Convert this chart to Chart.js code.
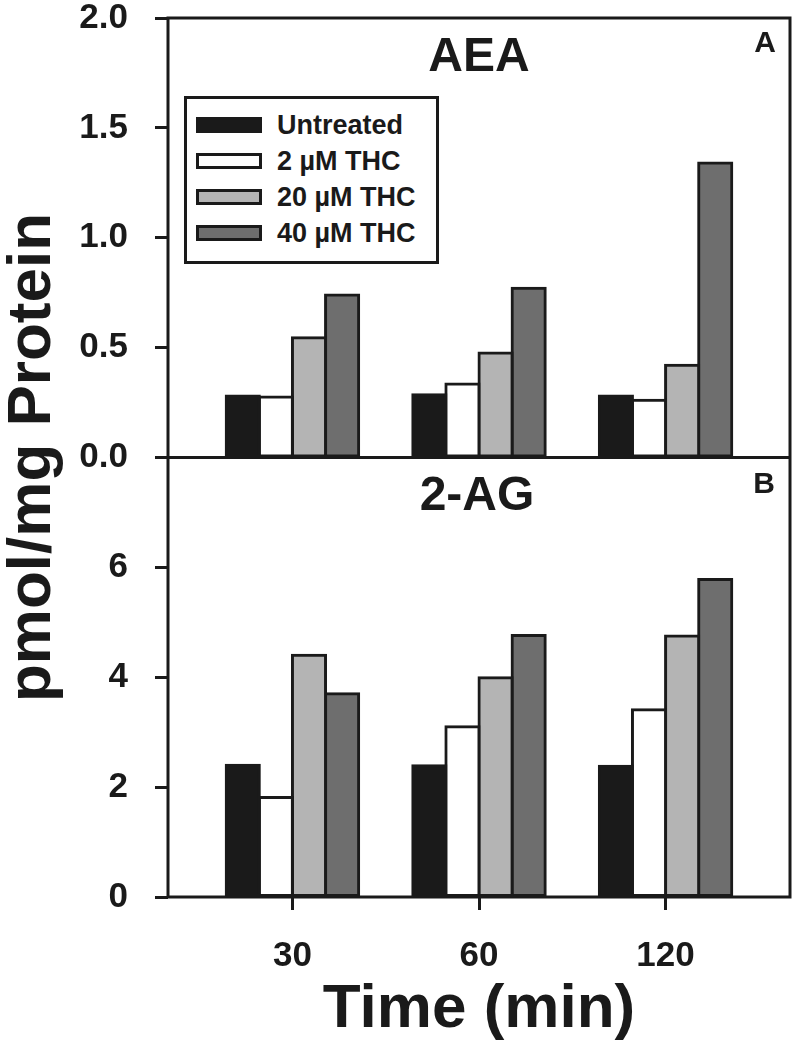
<!DOCTYPE html>
<html lang="en">
<head>
<meta charset="utf-8">
<title>AEA / 2-AG</title>
<script src="https://cdn.jsdelivr.net/npm/chart.js@4.4.1/dist/chart.umd.min.js"></script>
<style>
  html,body{margin:0;padding:0;background:#fff;}
  #cadre{position:relative;width:797px;height:1052px;}
  #legende{position:absolute;left:184px;top:96px;width:255px;height:168px;box-sizing:border-box;
    border:3px solid #1a1a1a;background:#fff;padding:8px 0 0 9px;
    font:bold 27px "Liberation Sans",Arial,sans-serif;color:#1a1a1a;}
  .lg{display:flex;align-items:center;height:36px;white-space:nowrap;}
  .lg i{display:block;width:66px;height:16px;box-sizing:border-box;border:3px solid #1a1a1a;margin-right:15px;}
</style>
</head>
<body>
<div id="cadre">
  <canvas id="graph" width="797" height="1052"></canvas>
  <div id="legende"></div>
</div>
<script>
/* ---- données ---- */
const TEMPS = ['30', '60', '120'];
const SERIES = ['Untreated', '2 µM THC', '20 µM THC', '40 µM THC'];
const COULEURS = ['#1a1a1a', '#ffffff', '#b4b4b4', '#6e6e6e'];

/* A : AEA (pmol/mg protéine) */
const AEA_UNTREATED = [0.28, 0.285, 0.28];
const AEA_THC2 = [0.275, 0.335, 0.26];
const AEA_THC20 = [0.545, 0.475, 0.42];
const AEA_THC40 = [0.74, 0.77, 1.34];

/* B : 2-AG (pmol/mg protéine) */
const AG_UNTREATED = [2.40, 2.39, 2.38];
const AG_THC2 = [1.81, 3.10, 3.41];
const AG_THC20 = [4.40, 3.99, 4.75];
const AG_THC40 = [3.70, 4.76, 5.78];

const TICKS_AEA = [0, 0.5, 1.0, 1.5, 2.0];
const TICKS_AG = [0, 2, 4, 6];

const ENCRE = '#1a1a1a';
const POLICE = '"Liberation Sans", Arial, sans-serif';

const $ = id => document.getElementById(id);

/* légende HTML (une seule pour les deux panneaux) */
$('legende').innerHTML = SERIES.map((s, i) =>
  `<div class="lg"><i style="background:${COULEURS[i]}"></i><span>${s}</span></div>`).join('');

const points = vals => vals.map((y, i) => ({ x: i, y }));
const barres = (vals, i, axe) => ({
  label: SERIES[i], data: points(vals), yAxisID: axe, stack: 's' + i,
  backgroundColor: COULEURS[i], borderColor: ENCRE, borderWidth: 3, borderSkipped: false,
  inflateAmount: 1.5, categoryPercentage: 0.71, barPercentage: 1,
});

/* cadre des deux panneaux + titres de panneau */
const habillage = {
  id: 'habillage',
  afterDatasetsDraw(chart){
    const { ctx, chartArea: a, scales } = chart;
    ctx.save();
    ctx.strokeStyle = ENCRE; ctx.lineWidth = 3;
    ctx.strokeRect(a.left, a.top, a.right - a.left, a.bottom - a.top);
    ctx.beginPath(); ctx.moveTo(a.left, scales.yA.bottom); ctx.lineTo(a.right, scales.yA.bottom); ctx.stroke();
    ctx.fillStyle = ENCRE; ctx.textAlign = 'center'; ctx.textBaseline = 'middle';
    const xm = scales.x.getPixelForValue(1);
    ctx.font = `bold 48px ${POLICE}`;
    ctx.fillText('AEA', xm, scales.yA.top + 40);
    ctx.fillText('2-AG', xm - 2, scales.yB.top + 39);
    ctx.font = `bold 30px ${POLICE}`;
    ctx.fillText('A', a.right - 25, scales.yA.top + 26);
    ctx.fillText('B', a.right - 26, scales.yB.top + 27);
    ctx.restore();
  }
};

const policeTick = { family: POLICE, size: 35, weight: 'bold', lineHeight: 1 };
const policeTitre = { family: POLICE, size: 62, weight: 'bold', lineHeight: 1 };
const grille = { display: true, offset: false, drawOnChartArea: false, drawTicks: true, tickLength: 13, lineWidth: 3, color: ENCRE };

const axeY = (ticks, max, fmt) => ({
  position: 'left', stack: 'panneaux', stackWeight: 1, stacked: false, min: 0, max,
  afterBuildTicks: s => { s.ticks = ticks.map(value => ({ value })); },
  /* largeur fixe, sans marge haute/basse ajoutée par les libellés */
  afterFit: s => { s.width = 108; s.paddingTop = 0; s.paddingBottom = 0; },
  grid: grille, border: { display: false },
  ticks: { font: policeTick, color: ENCRE, padding: 27, callback: fmt },
});

new Chart($('graph'), {
  type: 'bar',
  data: { datasets: [
    barres(AEA_UNTREATED, 0, 'yA'), barres(AEA_THC2, 1, 'yA'), barres(AEA_THC20, 2, 'yA'), barres(AEA_THC40, 3, 'yA'),
    barres(AG_UNTREATED, 0, 'yB'), barres(AG_THC2, 1, 'yB'), barres(AG_THC20, 2, 'yB'), barres(AG_THC40, 3, 'yB'),
  ]},
  options: {
    responsive: false, animation: false, devicePixelRatio: 1,
    layout: { padding: { left: 0, top: 18, right: 7, bottom: 0 } },
    plugins: { legend: { display: false }, tooltip: { enabled: false } },
    scales: {
      x: {
        type: 'linear', min: -0.667, max: 2.667, offset: false,
        afterBuildTicks: s => { s.ticks = TEMPS.map((_, i) => ({ value: i })); },
        afterFit: s => { s.height = 155; s.paddingLeft = 0; s.paddingRight = 0; },
        grid: grille, border: { display: false },
        ticks: { font: policeTick, color: ENCRE, padding: 29, maxRotation: 0, autoSkip: false, callback: v => TEMPS[v] ?? '' },
        title: { display: true, text: 'Time (min)', font: policeTitre, color: ENCRE, padding: { top: 0, bottom: 11 } },
      },
      yT: {
        position: 'left', weight: 1,
        afterFit: s => { s.width = 60; s.paddingTop = 0; s.paddingBottom = 0; },
        grid: { display: false }, border: { display: false }, ticks: { display: false },
        title: { display: true, text: 'pmol/mg Protein', font: policeTitre, color: ENCRE, padding: { top: 2, bottom: 0 } },
      },
      yB: axeY(TICKS_AG, 8, v => String(v)),
      yA: axeY(TICKS_AEA, 2, v => v.toFixed(1)),
    }
  },
  plugins: [habillage]
});
</script>
</body>
</html>
